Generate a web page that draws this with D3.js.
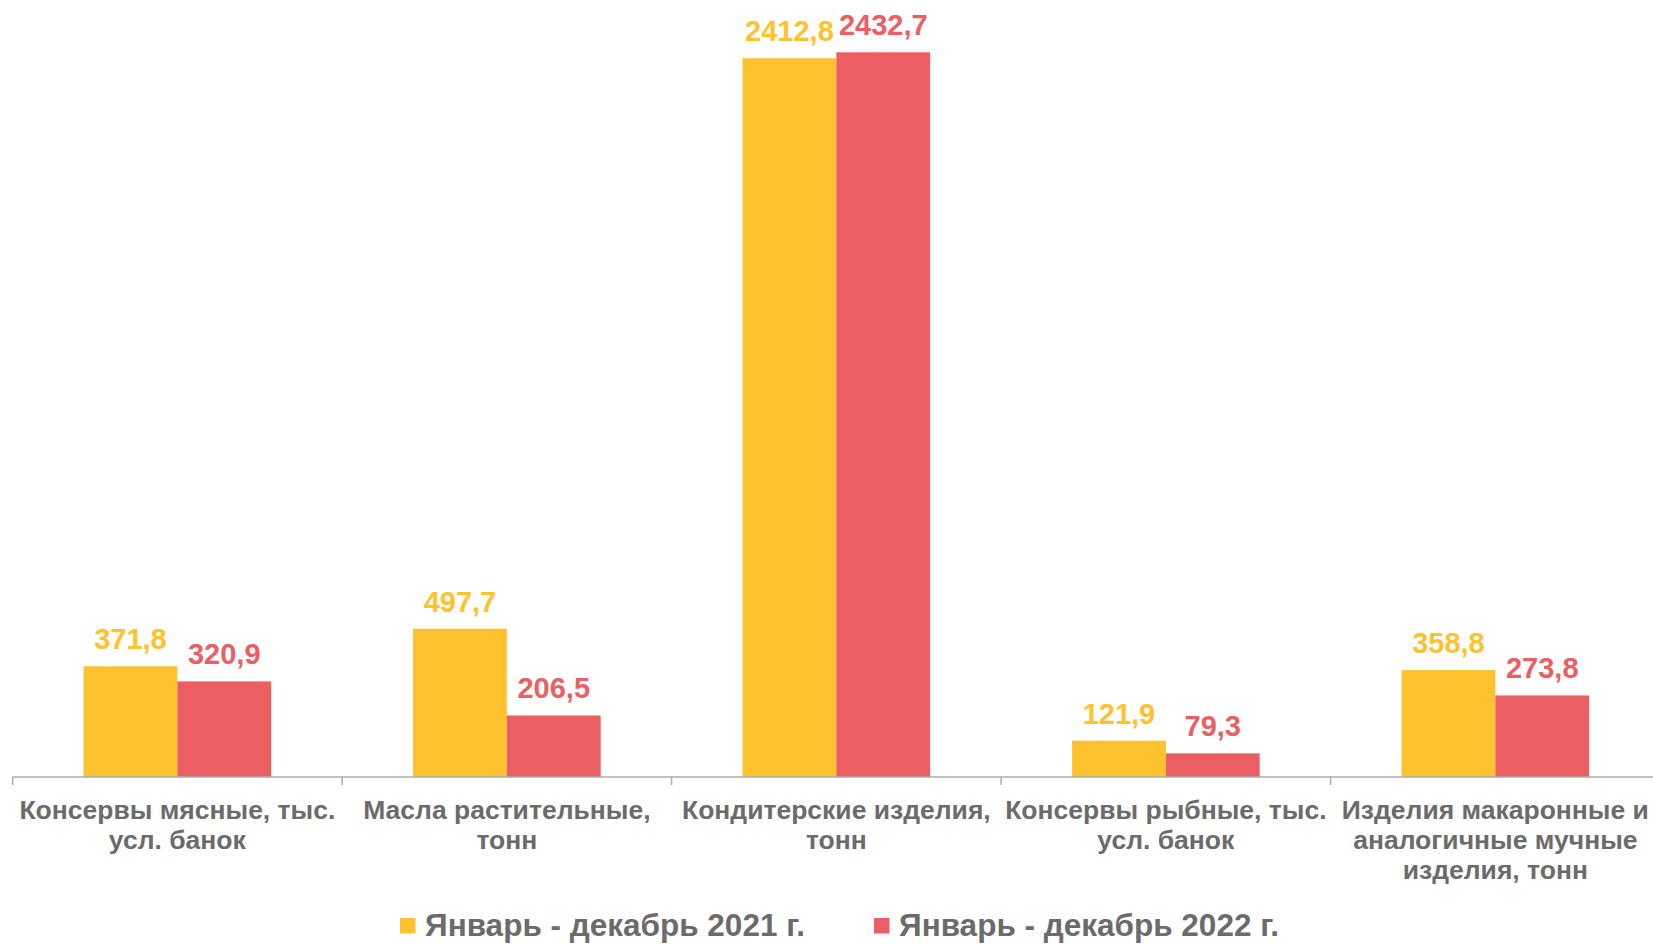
<!DOCTYPE html>
<html>
<head>
<meta charset="utf-8">
<script src="https://cdn.jsdelivr.net/npm/d3@7"></script>
<style>
  html, body { margin: 0; padding: 0; background: #ffffff; }
  svg { display: block; }
  text { font-family: "Liberation Sans", Arial, sans-serif; font-weight: bold; }
</style>
</head>
<body>
<svg id="chart" width="1653" height="944"></svg>
<script>
const categories = [
  "Консервы мясные, тыс.\nусл. банок",
  "Масла растительные,\nтонн",
  "Кондитерские изделия,\nтонн",
  "Консервы рыбные, тыс.\nусл. банок",
  "Изделия макаронные и\nаналогичные мучные\nизделия, тонн"
];
const seriesNames = ["Январь - декабрь 2021 г.", "Январь - декабрь 2022 г."];
const values2021 = [371.8, 497.7, 2412.8, 121.9, 358.8];
const values2022 = [320.9, 206.5, 2432.7, 79.3, 273.8];
const seriesColors = ["#FFC22F", "#EB5F62"];

const svg = d3.select("#chart");
const plotLeft = 12.6, plotRight = 1660.1;
const axisY = 777;

const x0 = d3.scaleBand().domain(d3.range(categories.length)).range([plotLeft, plotRight]).padding(0);
const bw = x0.bandwidth();
const groupW = bw * 0.5694;
const x1 = d3.scaleBand().domain([0, 1]).range([(bw - groupW) / 2, (bw + groupW) / 2]).padding(0);
const y = d3.scaleLinear().domain([0, 2500]).range([axisY, axisY - 2500 * 0.2979]);

const fmt = v => d3.format(".1f")(v).replace(".", ",");
const series = [values2021, values2022];

const g = svg.append("g");

// bars
series.forEach((vals, si) => {
  g.selectAll(".bar" + si).data(vals).enter().append("rect")
    .attr("x", (d, i) => x0(i) + x1(si))
    .attr("y", d => y(d))
    .attr("width", x1.bandwidth())
    .attr("height", d => y(0) - y(d))
    .attr("fill", seriesColors[si]);
});

// value labels
series.forEach((vals, si) => {
  g.selectAll(".lbl" + si).data(vals).enter().append("text")
    .attr("x", (d, i) => x0(i) + x1(si) + x1.bandwidth() / 2)
    .attr("y", d => y(d) - 17)
    .attr("text-anchor", "middle")
    .attr("font-size", 29)
    .attr("fill", seriesColors[si])
    .text(d => fmt(d));
});

// axis line and ticks at band edges
g.append("line")
  .attr("x1", plotLeft).attr("x2", plotRight)
  .attr("y1", axisY).attr("y2", axisY)
  .attr("stroke", "#ADADAD").attr("stroke-width", 1.5);
const edges = d3.range(categories.length).map(i => x0(i)).concat([plotRight]);
g.selectAll(".tick").data(edges).enter().append("line")
  .attr("x1", d => d).attr("x2", d => d)
  .attr("y1", axisY).attr("y2", axisY + 8)
  .attr("stroke", "#ADADAD").attr("stroke-width", 1.5);

// category labels
categories.forEach((c, i) => {
  const lines = c.split("\n");
  const t = g.append("text")
    .attr("text-anchor", "middle")
    .attr("font-size", 26.5)
    .attr("fill", "#6B6B6B");
  lines.forEach((ln, li) => {
    t.append("tspan")
      .attr("x", x0(i) + bw / 2)
      .attr("y", 819 + li * 30)
      .text(ln);
  });
});

// legend
const legendItems = [
  { x: 400, name: seriesNames[0], color: seriesColors[0] },
  { x: 874, name: seriesNames[1], color: seriesColors[1] }
];
legendItems.forEach(it => {
  svg.append("rect").attr("x", it.x).attr("y", 918).attr("width", 15.5).attr("height", 15.5).attr("fill", it.color);
  svg.append("text").attr("x", it.x + 25).attr("y", 936)
    .attr("font-size", 31.5).attr("fill", "#6B6B6B").text(it.name);
});
</script>
</body>
</html>
